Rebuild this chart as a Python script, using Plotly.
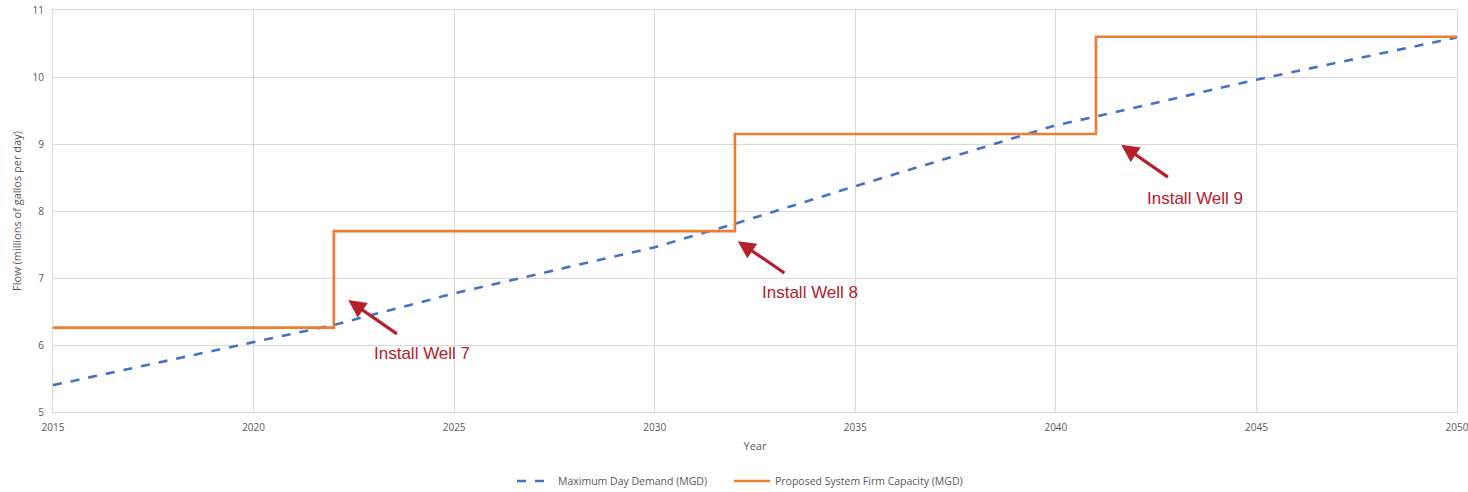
import plotly.graph_objects as go

# Maximum day demand projection (MGD)
demand_years = [2015, 2020, 2022, 2025, 2030, 2032, 2035, 2040, 2041, 2045, 2050]
demand_mgd = [5.40, 6.05, 6.30, 6.77, 7.46, 7.81, 8.37, 9.28, 9.41, 9.96, 10.59]

# Proposed firm capacity steps (MGD); each step is a new well coming online
capacity_years = [2015, 2022, 2032, 2041, 2050]
capacity_mgd = [6.26, 7.70, 9.15, 10.60, 10.60]

# Well installation callouts: label, arrow head (x, y), arrow tail (x, y)
well_labels = ["Install Well 7", "Install Well 8", "Install Well 9"]
arrow_heads = [(2022.36, 6.67), (2032.07, 7.55), (2041.63, 8.99)]
arrow_tails = [(2023.61, 6.15), (2033.27, 7.06), (2042.83, 8.49)]
label_pos = [(2024.21, 5.87), (2033.87, 6.78), (2043.46, 8.18)]

x_ticks = [2015, 2020, 2025, 2030, 2035, 2040, 2045, 2050]
y_ticks = [5, 6, 7, 8, 9, 10, 11]

BLUE = "#4472C4"
ORANGE = "#ED7D31"
RED = "#B5202A"
GRID = "#D9D9D9"
TEXT = "#595959"
W, H = 1468, 492

fig = go.Figure()
fig.add_trace(go.Scatter(
    x=demand_years, y=demand_mgd, mode="lines",
    name="Maximum Day Demand (MGD)", legend="legend",
    line=dict(color=BLUE, width=2.6, dash="dash"),
))
fig.add_trace(go.Scatter(
    x=capacity_years, y=capacity_mgd, mode="lines",
    name="Proposed System Firm Capacity (MGD)", legend="legend2",
    line=dict(color=ORANGE, width=2.6, shape="hv"),
))

annotations = []
for label, head, tail, pos in zip(well_labels, arrow_heads, arrow_tails, label_pos):
    annotations.append(dict(
        x=head[0], y=head[1], ax=tail[0], ay=tail[1],
        xref="x", yref="y", axref="x", ayref="y",
        text="", showarrow=True, arrowhead=2, arrowsize=1.1,
        arrowwidth=3.2, arrowcolor=RED,
    ))
    annotations.append(dict(
        x=pos[0], y=pos[1], xref="x", yref="y", text=label,
        showarrow=False,
        font=dict(family="Liberation Sans Narrow, Arial Narrow, Liberation Sans", size=17, color=RED),
    ))

legend_style = dict(orientation="h", xanchor="left", xref="container",
                    yref="container", y=11 / H, yanchor="middle",
                    font=dict(size=10.5, color=TEXT), itemwidth=36,
                    bgcolor="rgba(0,0,0,0)")

fig.update_layout(
    width=W, height=H,
    margin=dict(l=53, r=11, t=10, b=80, autoexpand=False),
    paper_bgcolor="white", plot_bgcolor="white",
    font=dict(family="Open Sans, Noto Sans, sans-serif", size=10, color=TEXT),
    showlegend=True,
    legend=dict(x=512 / W, **legend_style),
    legend2=dict(x=729 / W, **legend_style),
    annotations=annotations,
)
fig.update_xaxes(
    range=[2015, 2050], tickvals=x_ticks, ticks="", showgrid=True,
    gridcolor=GRID, gridwidth=1, showline=True, linecolor=GRID, mirror=True,
    zeroline=False, ticklabelstandoff=6, automargin=False,
    ticklabeloverflow="allow",
    title=dict(text="Year", font=dict(size=11, color=TEXT), standoff=9),
    tickfont=dict(size=10, color=TEXT),
)
fig.update_yaxes(
    range=[5, 11], tickvals=y_ticks, ticks="", showgrid=True,
    gridcolor=GRID, gridwidth=1, showline=True, linecolor=GRID, mirror=True,
    zeroline=False, ticklabelstandoff=6, automargin=False,
    title=dict(text="Flow (millions of gallos per day)", font=dict(size=11, color=TEXT), standoff=8),
    tickfont=dict(size=10, color=TEXT),
)

fig.write_html("out.html")
